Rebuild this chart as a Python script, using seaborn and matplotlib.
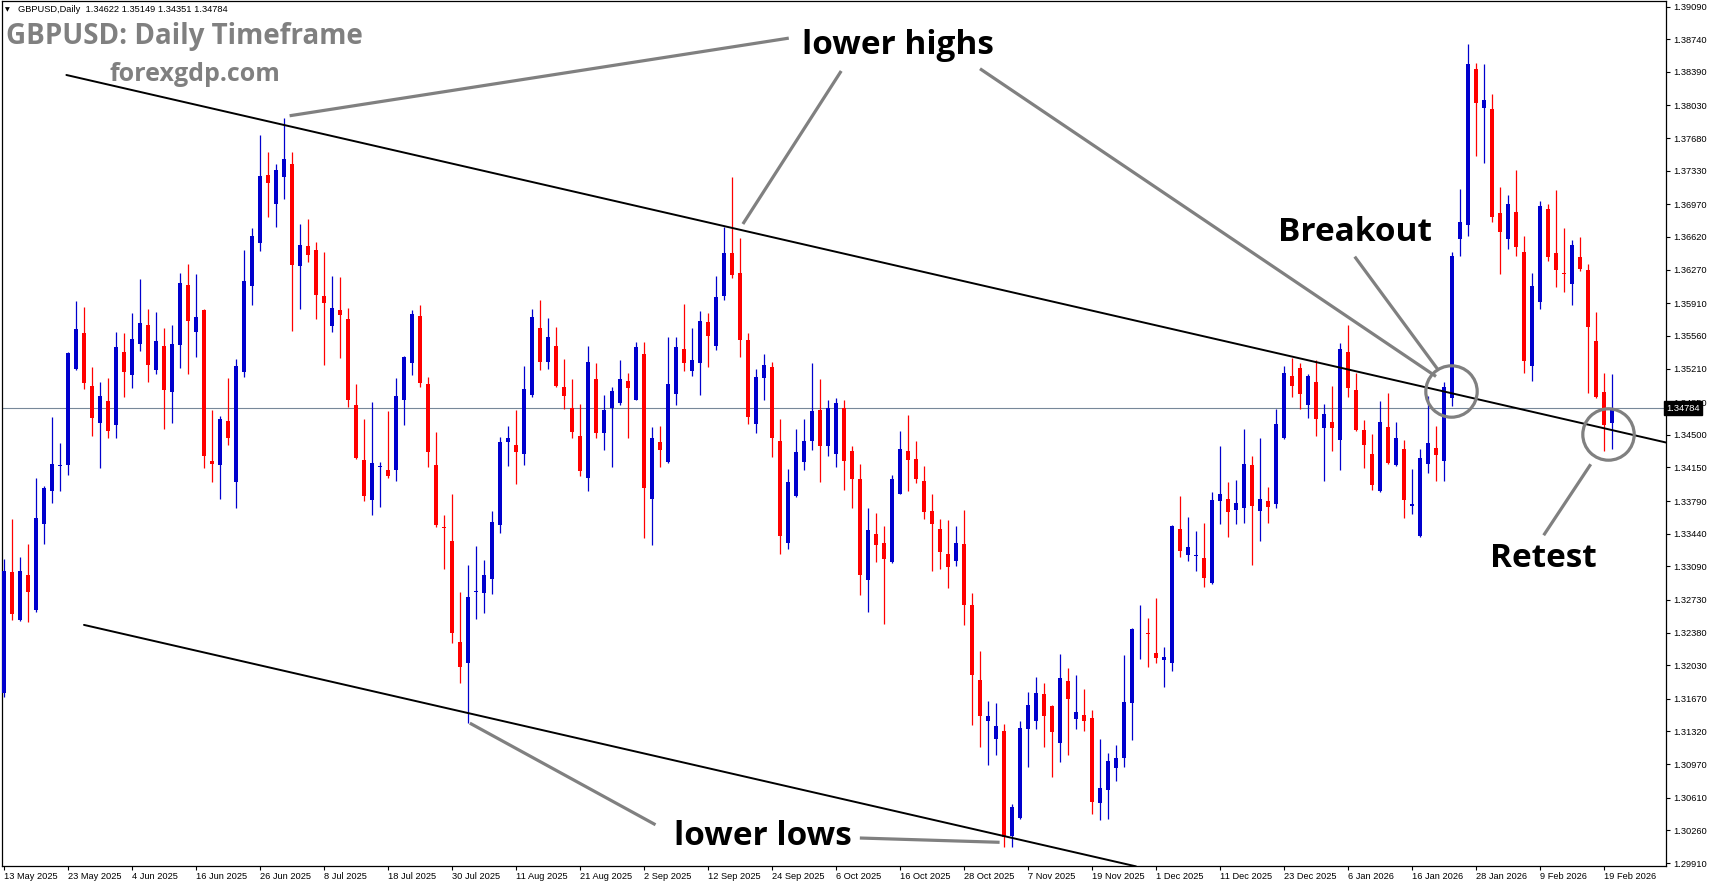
import matplotlib
matplotlib.use("Agg")
import matplotlib.pyplot as plt
import numpy as np
import pandas as pd
import seaborn as sns

# ---------------- data ----------------
symbol_header = "GBPUSD,Daily  1.34622 1.35149 1.34351 1.34784"
title_text = "GBPUSD: Daily Timeframe"
site_text = "forexgdp.com"

opens = [
    1.3173, 1.3303, 1.3251, 1.3300, 1.3262, 1.3354, 1.3390, 1.3416, 1.3418, 1.3520,
    1.3559, 1.3502, 1.3463, 1.3486, 1.3460, 1.3539, 1.3514, 1.3547, 1.3568, 1.3519,
    1.3545, 1.3496, 1.3546, 1.3611, 1.3560, 1.3584, 1.3422, 1.3418, 1.3465, 1.3399,
    1.3517, 1.3609, 1.3656, 1.3728, 1.3697, 1.3726, 1.3740, 1.3631, 1.3652, 1.3648,
    1.3599, 1.3567, 1.3584, 1.3574, 1.3482, 1.3423, 1.3380, 1.3415, 1.3412, 1.3412,
    1.3487, 1.3527, 1.3577, 1.3504, 1.3418, 1.3351, 1.3336, 1.3228, 1.3205, 1.3281,
    1.3280, 1.3295, 1.3353, 1.3442, 1.3439, 1.3429, 1.3493, 1.3564, 1.3528, 1.3545,
    1.3501, 1.3479, 1.3449, 1.3404, 1.3510, 1.3452, 1.3479, 1.3484, 1.3508, 1.3487,
    1.3537, 1.3381, 1.3442, 1.3421, 1.3494, 1.3542, 1.3518, 1.3527, 1.3571, 1.3545,
    1.3599, 1.3645, 1.3623, 1.3552, 1.3462, 1.3511, 1.3523, 1.3443, 1.3334, 1.3384,
    1.3421, 1.3443, 1.3477, 1.3438, 1.3429, 1.3479, 1.3433, 1.3403, 1.3294, 1.3344,
    1.3334, 1.3314, 1.3387, 1.3433, 1.3424, 1.3400, 1.3368, 1.3349, 1.3322, 1.3315,
    1.3333, 1.3268, 1.3187, 1.3143, 1.3124, 1.3133, 1.3020, 1.3039, 1.3135, 1.3143,
    1.3172, 1.3159, 1.3120, 1.3186, 1.3145, 1.3150, 1.3146, 1.3055, 1.3069, 1.3093,
    1.3104, 1.3162, 1.3237, 1.3238, 1.3216, 1.3209, 1.3205, 1.3349, 1.3321, 1.3320,
    1.3318, 1.3291, 1.3379, 1.3381, 1.3369, 1.3372, 1.3418, 1.3368, 1.3379, 1.3376,
    1.3446, 1.3513, 1.3522, 1.3482, 1.3507, 1.3457, 1.3464, 1.3444, 1.3539, 1.3498,
    1.3455, 1.3429, 1.3390, 1.3458, 1.3418, 1.3435, 1.3374, 1.3341, 1.3419, 1.3436,
    1.3422, 1.3489, 1.3660, 1.3675, 1.3842, 1.3800, 1.3799, 1.3688, 1.3660, 1.3689,
    1.3646, 1.3524, 1.3592, 1.3692, 1.3645, 1.3623, 1.3612, 1.3640, 1.3627, 1.3550,
    1.3496, 1.34622,
]
highs = [
    1.3317, 1.3360, 1.3319, 1.3333, 1.3404, 1.3395, 1.3469, 1.3441, 1.3539, 1.3593,
    1.3587, 1.3523, 1.3507, 1.3511, 1.3560, 1.3559, 1.3581, 1.3617, 1.3585, 1.3582,
    1.3564, 1.3568, 1.3623, 1.3633, 1.3622, 1.3585, 1.3477, 1.3470, 1.3511, 1.3531,
    1.3648, 1.3672, 1.3771, 1.3753, 1.3740, 1.3789, 1.3753, 1.3676, 1.3681, 1.3657,
    1.3646, 1.3620, 1.3619, 1.3586, 1.3504, 1.3467, 1.3485, 1.3421, 1.3476, 1.3511,
    1.3534, 1.3584, 1.3589, 1.3512, 1.3453, 1.3364, 1.3386, 1.3282, 1.3310, 1.3331,
    1.3316, 1.3368, 1.3448, 1.3459, 1.3477, 1.3524, 1.3585, 1.3594, 1.3575, 1.3566,
    1.3531, 1.3510, 1.3483, 1.3545, 1.3527, 1.3493, 1.3501, 1.3530, 1.3516, 1.3549,
    1.3549, 1.3458, 1.3459, 1.3555, 1.3555, 1.3590, 1.3564, 1.3583, 1.3581, 1.3620,
    1.3673, 1.3726, 1.3661, 1.3559, 1.3520, 1.3537, 1.3528, 1.3467, 1.3413, 1.3456,
    1.3467, 1.3527, 1.3510, 1.3487, 1.3489, 1.3487, 1.3438, 1.3419, 1.3371, 1.3366,
    1.3352, 1.3407, 1.3454, 1.3471, 1.3443, 1.3417, 1.3387, 1.3360, 1.3359, 1.3352,
    1.3369, 1.3280, 1.3218, 1.3165, 1.3162, 1.3140, 1.3054, 1.3143, 1.3174, 1.3190,
    1.3184, 1.3160, 1.3215, 1.3200, 1.3192, 1.3177, 1.3155, 1.3124, 1.3109, 1.3118,
    1.3214, 1.3243, 1.3268, 1.3254, 1.3275, 1.3222, 1.3353, 1.3384, 1.3362, 1.3347,
    1.3355, 1.3389, 1.3438, 1.3399, 1.3402, 1.3456, 1.3427, 1.3447, 1.3394, 1.3478,
    1.3524, 1.3532, 1.3527, 1.3515, 1.3530, 1.3483, 1.3502, 1.3548, 1.3568, 1.3516,
    1.3466, 1.3451, 1.3486, 1.3495, 1.3464, 1.3444, 1.3413, 1.3435, 1.3492, 1.3459,
    1.3507, 1.3646, 1.3713, 1.3869, 1.3848, 1.3847, 1.3815, 1.3716, 1.3707, 1.3734,
    1.3663, 1.3623, 1.3701, 1.3697, 1.3712, 1.3672, 1.3659, 1.3662, 1.3633, 1.3582,
    1.3516, 1.35149,
]
lows = [
    1.3169, 1.3251, 1.3250, 1.3249, 1.3260, 1.3333, 1.3377, 1.3390, 1.3407, 1.3519,
    1.3499, 1.3449, 1.3414, 1.3447, 1.3447, 1.3490, 1.3500, 1.3540, 1.3507, 1.3515,
    1.3456, 1.3463, 1.3522, 1.3515, 1.3533, 1.3414, 1.3399, 1.3381, 1.3439, 1.3371,
    1.3512, 1.3589, 1.3647, 1.3683, 1.3673, 1.3703, 1.3561, 1.3585, 1.3635, 1.3574,
    1.3525, 1.3560, 1.3532, 1.3480, 1.3424, 1.3379, 1.3364, 1.3373, 1.3404, 1.3400,
    1.3460, 1.3514, 1.3501, 1.3415, 1.3351, 1.3306, 1.3227, 1.3184, 1.3141, 1.3253,
    1.3259, 1.3279, 1.3345, 1.3417, 1.3397, 1.3418, 1.3490, 1.3519, 1.3520, 1.3501,
    1.3478, 1.3447, 1.3406, 1.3390, 1.3446, 1.3434, 1.3415, 1.3482, 1.3447, 1.3487,
    1.3339, 1.3332, 1.3415, 1.3420, 1.3482, 1.3518, 1.3513, 1.3493, 1.3523, 1.3541,
    1.3594, 1.3618, 1.3533, 1.3462, 1.3452, 1.3487, 1.3426, 1.3322, 1.3328, 1.3383,
    1.3412, 1.3434, 1.3399, 1.3427, 1.3415, 1.3391, 1.3371, 1.3278, 1.3260, 1.3314,
    1.3247, 1.3313, 1.3386, 1.3390, 1.3398, 1.3360, 1.3304, 1.3306, 1.3286, 1.3309,
    1.3246, 1.3139, 1.3115, 1.3096, 1.3107, 1.3008, 1.3008, 1.3038, 1.3094, 1.3135,
    1.3115, 1.3083, 1.3099, 1.3107, 1.3135, 1.3133, 1.3044, 1.3037, 1.3038, 1.3079,
    1.3094, 1.3123, 1.3210, 1.3201, 1.3205, 1.3180, 1.3197, 1.3319, 1.3315, 1.3304,
    1.3287, 1.3290, 1.3354, 1.3340, 1.3354, 1.3355, 1.3310, 1.3336, 1.3355, 1.3371,
    1.3445, 1.3490, 1.3478, 1.3468, 1.3449, 1.3400, 1.3433, 1.3412, 1.3490, 1.3454,
    1.3414, 1.3391, 1.3389, 1.3419, 1.3417, 1.3361, 1.3365, 1.3340, 1.3409, 1.3400,
    1.3400, 1.3481, 1.3642, 1.3663, 1.3749, 1.3741, 1.3678, 1.3622, 1.3649, 1.3642,
    1.3516, 1.3508, 1.3585, 1.3636, 1.3608, 1.3603, 1.3589, 1.3625, 1.3495, 1.3489,
    1.3433, 1.34351,
]
closes = [
    1.3304, 1.3258, 1.3304, 1.3282, 1.3361, 1.3393, 1.3419, 1.3418, 1.3538, 1.3563,
    1.3505, 1.3468, 1.3492, 1.3454, 1.3544, 1.3517, 1.3553, 1.3570, 1.3525, 1.3550,
    1.3498, 1.3547, 1.3613, 1.3572, 1.3576, 1.3427, 1.3419, 1.3467, 1.3446, 1.3524,
    1.3615, 1.3663, 1.3727, 1.3720, 1.3734, 1.3746, 1.3632, 1.3653, 1.3643, 1.3600,
    1.3591, 1.3586, 1.3578, 1.3487, 1.3425, 1.3384, 1.3420, 1.3417, 1.3406, 1.3492,
    1.3533, 1.3579, 1.3505, 1.3431, 1.3353, 1.3350, 1.3237, 1.3201, 1.3276, 1.3283,
    1.3300, 1.3357, 1.3442, 1.3447, 1.3431, 1.3499, 1.3576, 1.3528, 1.3555, 1.3502,
    1.3492, 1.3453, 1.3411, 1.3528, 1.3452, 1.3477, 1.3497, 1.3510, 1.3500, 1.3544,
    1.3393, 1.3446, 1.3434, 1.3504, 1.3544, 1.3527, 1.3530, 1.3572, 1.3556, 1.3598,
    1.3645, 1.3621, 1.3552, 1.3469, 1.3512, 1.3525, 1.3447, 1.3341, 1.3399, 1.3431,
    1.3443, 1.3476, 1.3438, 1.3479, 1.3484, 1.3422, 1.3403, 1.3300, 1.3348, 1.3332,
    1.3317, 1.3403, 1.3435, 1.3423, 1.3403, 1.3367, 1.3354, 1.3324, 1.3308, 1.3334,
    1.3268, 1.3192, 1.3149, 1.3149, 1.3138, 1.3019, 1.3051, 1.3136, 1.3160, 1.3173,
    1.3149, 1.3131, 1.3189, 1.3167, 1.3153, 1.3143, 1.3056, 1.3071, 1.3100, 1.3104,
    1.3164, 1.3242, 1.3238, 1.3236, 1.3211, 1.3212, 1.3352, 1.3325, 1.3330, 1.3321,
    1.3297, 1.3380, 1.3386, 1.3367, 1.3377, 1.3419, 1.3374, 1.3381, 1.3373, 1.3462,
    1.3516, 1.3502, 1.3494, 1.3513, 1.3467, 1.3472, 1.3457, 1.3542, 1.3500, 1.3455,
    1.3439, 1.3396, 1.3464, 1.3420, 1.3447, 1.3380, 1.3376, 1.3425, 1.3441, 1.3428,
    1.3501, 1.3642, 1.3678, 1.3847, 1.3806, 1.3809, 1.3683, 1.3667, 1.3697, 1.3651,
    1.3529, 1.3609, 1.3695, 1.3641, 1.3627, 1.3622, 1.3653, 1.3628, 1.3566, 1.3490,
    1.3460, 1.34784,
]

date_labels = [
    "13 May 2025", "23 May 2025", "4 Jun 2025", "16 Jun 2025", "26 Jun 2025",
    "8 Jul 2025", "18 Jul 2025", "30 Jul 2025", "11 Aug 2025", "21 Aug 2025",
    "2 Sep 2025", "12 Sep 2025", "24 Sep 2025", "6 Oct 2025", "16 Oct 2025",
    "28 Oct 2025", "7 Nov 2025", "19 Nov 2025", "1 Dec 2025", "11 Dec 2025",
    "23 Dec 2025", "6 Jan 2026", "16 Jan 2026", "28 Jan 2026", "9 Feb 2026",
    "19 Feb 2026",
]
price_ticks = [
    1.39090, 1.38740, 1.38390, 1.38030, 1.37680, 1.37330, 1.36970, 1.36620,
    1.36270, 1.35910, 1.35560, 1.35210, 1.34850, 1.34500, 1.34150, 1.33790,
    1.33440, 1.33090, 1.32730, 1.32380, 1.32030, 1.31670, 1.31320, 1.30970,
    1.30610, 1.30260, 1.29910,
]
current_price = 1.34784

# channel trend lines (bar index, price)
upper_channel_bars = [7.8, 207.75]
upper_channel_prices = [1.38356, 1.34417]
lower_channel_bars = [10.0, 141.5]
lower_channel_prices = [1.32462, 1.29874]

# annotation connectors (bar index, price)
connectors = [
    ([35.7, 98.1], [1.37919, 1.38751]),
    ([92.36, 104.65], [1.36759, 1.38399]),
    ([122.0, 179.0], [1.38423, 1.35125]),
    ([168.84, 179.21], [1.36409, 1.35202]),
    ([81.44, 58.23], [1.30320, 1.31409]),
    ([106.98, 124.45], [1.30178, 1.30132]),
    ([198.34, 192.46], [1.34184, 1.33423]),
]
circles = [(180.9, 1.3497), (200.5, 1.34512)]
labels = [
    ("lower highs", 111.8, 1.38667),
    ("Breakout", 168.9, 1.36673),
    ("Retest", 192.4, 1.33169),
    ("lower lows", 94.8, 1.30189),
]

# ---------------- figure ----------------
sns.set_theme(style="white")
plt.rcParams['font.family'] = ['Liberation Sans', 'DejaVu Sans']

W, H = 1713, 888
fig = plt.figure(figsize=(W / 100, H / 100), dpi=100)
fig.patch.set_facecolor("white")
ax = fig.add_axes([2 / W, 22 / H, 1664 / W, 865 / H])
ax.set_facecolor("white")

df = pd.DataFrame({"open": opens, "high": highs, "low": lows, "close": closes})
df["idx"] = np.arange(len(df))
up = df["close"] >= df["open"]
colors = np.where(up, "#0000CD", "#FF0000")
body_low = df[["open", "close"]].min(axis=1)
body_h = (df["close"] - df["open"]).abs().clip(lower=0.00009)

ax.vlines(df["idx"], df["low"], df["high"], colors=colors, linewidth=0.9, zorder=2)
ax.bar(df["idx"], body_h, bottom=body_low, width=0.62, color=colors,
       linewidth=0, zorder=3)

# current price line
ax.axhline(current_price, color="#778899", lw=0.8, zorder=1)

# channel lines
sns.lineplot(x=upper_channel_bars, y=upper_channel_prices, ax=ax,
             color="black", lw=1.4, zorder=4)
sns.lineplot(x=lower_channel_bars, y=lower_channel_prices, ax=ax,
             color="black", lw=1.4, zorder=4)

# connectors & circles
for xs, ys in connectors:
    ax.plot(xs, ys, color="#808080", lw=2.3, solid_capstyle="butt", zorder=5)
for cx, cy in circles:
    ax.plot([cx], [cy], marker="o", ms=37, mfc="none", mec="#808080",
            mew=2.3, zorder=5)

for txt, bx, py in labels:
    ax.text(bx, py, txt, ha="center", va="center", fontsize=24,
            fontweight="bold", family=["Open Sans", "DejaVu Sans"],
            color="black", zorder=6)

# watermark / header
ax.text(0.0027, 0.9595, title_text, transform=ax.transAxes, ha="left",
        va="center", fontsize=20, fontweight="bold",
        family=["Open Sans", "DejaVu Sans"], color="#808080", zorder=6)
ax.text(0.1157, 0.9156, site_text, transform=ax.transAxes, ha="center",
        va="center", fontsize=18, fontweight="bold",
        family=["Open Sans", "DejaVu Sans"], color="#808080", zorder=6)
ax.text(0.0096, 0.9896, symbol_header, transform=ax.transAxes, ha="left",
        va="center", fontsize=6.7, color="black", zorder=6)
ax.text(0.0030, 0.9896, "\u25bc", transform=ax.transAxes, ha="center",
        va="center", fontsize=4.5, color="black",
        family=["DejaVu Sans"], zorder=6)

# axes
ax.set_xlim(-0.25, 207.75)
ax.set_ylim(1.29878, 1.39149)
ax.yaxis.tick_right()
ax.set_yticks(price_ticks)
ax.set_yticklabels([f"{p:.5f}" for p in price_ticks])
ax.set_xticks(np.arange(0, 8 * len(date_labels), 8))
ax.set_xticklabels(date_labels, ha="left")
ax.tick_params(axis="y", which="both", right=True, left=False, direction="out",
               length=3, width=0.8, colors="black", labelsize=6.7, pad=2)
ax.tick_params(axis="x", which="both", bottom=True, direction="out",
               length=3, width=0.8, colors="black", labelsize=6.7, pad=1.5)
for s in ax.spines.values():
    s.set_visible(True)
    s.set_color("black")
    s.set_linewidth(0.9)
ax.grid(False)
ax.set_xlabel("")
ax.set_ylabel("")

# current price label box
ax.text(1.0, current_price, f"{current_price:.5f}", transform=ax.get_yaxis_transform(),
        ha="left", va="center", fontsize=6.7, color="white", clip_on=False,
        bbox=dict(boxstyle="square,pad=0.25", fc="black", ec="black"), zorder=10)

fig.savefig("out.png", dpi=100, facecolor="white")
